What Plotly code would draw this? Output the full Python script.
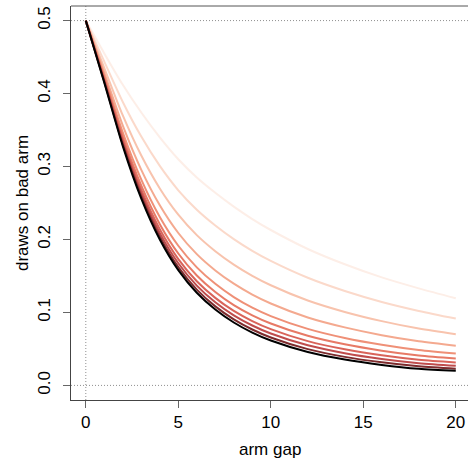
import plotly.graph_objects as go

x_gap = [0, 1, 2, 3, 4, 5, 6, 7, 8, 9, 10, 12, 14, 16, 18, 20]

curve_1 = [0.5, 0.455, 0.412, 0.374, 0.340, 0.310, 0.285, 0.264, 0.245, 0.228, 0.213, 0.187, 0.166, 0.148, 0.133, 0.1195]
curve_2 = [0.5, 0.4438, 0.3885, 0.341, 0.3008, 0.2674, 0.2408, 0.2192, 0.2005, 0.1844, 0.1706, 0.1475, 0.1294, 0.1144, 0.1021, 0.0916]
curve_3 = [0.5, 0.435, 0.370, 0.315, 0.270, 0.234, 0.206, 0.184, 0.1656, 0.1502, 0.1373, 0.1164, 0.1007, 0.0881, 0.0779, 0.0702]
curve_4 = [0.5, 0.4284, 0.3561, 0.2955, 0.2469, 0.2089, 0.1799, 0.1576, 0.1394, 0.1245, 0.1123, 0.0931, 0.0795, 0.0688, 0.0605, 0.0545]
curve_5 = [0.5, 0.4238, 0.3465, 0.282, 0.2308, 0.1914, 0.1618, 0.1392, 0.1211, 0.1066, 0.0950, 0.0775, 0.0650, 0.0556, 0.0484, 0.0436]
curve_6 = [0.5, 0.421, 0.3406, 0.2737, 0.221, 0.1808, 0.1507, 0.1280, 0.1100, 0.0960, 0.0848, 0.0680, 0.0563, 0.0476, 0.0410, 0.0368]
curve_7 = [0.5, 0.419, 0.3364, 0.2678, 0.214, 0.1732, 0.1428, 0.1200, 0.1021, 0.0882, 0.0771, 0.0607, 0.0495, 0.0413, 0.0352, 0.0315]
curve_8 = [0.5, 0.4175, 0.3332, 0.2633, 0.2087, 0.1674, 0.1368, 0.1139, 0.0960, 0.0821, 0.0711, 0.0550, 0.0441, 0.0362, 0.0304, 0.0268]
curve_9 = [0.5, 0.4161, 0.3303, 0.2592, 0.2038, 0.1621, 0.1313, 0.1083, 0.0905, 0.0766, 0.0656, 0.0497, 0.0391, 0.0316, 0.0261, 0.0228]
curve_10 = [0.5, 0.415, 0.328, 0.256, 0.200, 0.158, 0.127, 0.104, 0.0862, 0.0724, 0.0615, 0.0458, 0.0354, 0.0281, 0.0228, 0.0200]

curves = [curve_1, curve_2, curve_3, curve_4, curve_5, curve_6, curve_7, curve_8, curve_9, curve_10]
colors = ["#fdeee7", "#fbd9ca", "#f8c3ad", "#f4a98f", "#ef9077",
          "#e77a66", "#d9645a", "#bf4c4c", "#7d2b2d", "#000000"]

x_ticks = [0, 5, 10, 15, 20]
y_ticks = [0.0, 0.1, 0.2, 0.3, 0.4, 0.5]
y_tick_text = ["0.0", "0.1", "0.2", "0.3", "0.4", "0.5"]

FONT = "Liberation Sans, Arial, Helvetica, sans-serif"

fig = go.Figure()
for vals, col in zip(curves, colors):
    fig.add_trace(go.Scatter(x=x_gap, y=vals, mode="lines",
                             line=dict(color=col, width=2, shape="spline", smoothing=0.8),
                             showlegend=False, hoverinfo="skip"))

# dotted reference lines
for yv in [0.0, 0.5]:
    fig.add_shape(type="line", xref="paper", yref="y", x0=0, x1=1, y0=yv, y1=yv,
                  line=dict(color="#8f8f8f", width=1, dash="1px,2px"), layer="below")
fig.add_shape(type="line", xref="x", yref="paper", x0=0, x1=0, y0=0, y1=1,
              line=dict(color="#8f8f8f", width=1, dash="1px,2px"), layer="below")
# top border of the box
fig.add_shape(type="line", xref="paper", yref="paper", x0=0, x1=1, y0=1, y1=1,
              line=dict(color="#555555", width=1))

fig.add_annotation(text="arm gap", xref="paper", yref="paper", x=0.5, y=0,
                   yshift=-49, xanchor="center", yanchor="middle", showarrow=False,
                   font=dict(family=FONT, size=17, color="#000000"))
fig.add_annotation(text="draws on bad arm", xref="paper", yref="paper", x=0, y=0.5,
                   xshift=-49, xanchor="center", yanchor="middle", textangle=-90,
                   showarrow=False, font=dict(family=FONT, size=17, color="#000000"))

fig.update_layout(
    width=468, height=461,
    margin=dict(l=71, r=0, t=6, b=61),
    paper_bgcolor="white", plot_bgcolor="white",
    font=dict(family=FONT, size=17, color="#000000"),
    xaxis=dict(range=[-0.8, 20.66], tickvals=x_ticks, ticks="outside", ticklen=7,
               tickcolor="#666666", showline=True, linecolor="#444444", linewidth=1,
               showgrid=False, zeroline=False, automargin=False),
    yaxis=dict(range=[-0.02, 0.52], tickvals=y_ticks, ticktext=y_tick_text, tickangle=-90,
               ticks="outside", ticklen=7, tickcolor="#666666", showline=True,
               linecolor="#444444", linewidth=1, showgrid=False, zeroline=False,
               automargin=False, ticklabelstandoff=6),
)

fig.write_html("out.html",
               config={"displayModeBar": False},
               post_script="document.body.style.margin='0';document.body.style.padding='0';")
